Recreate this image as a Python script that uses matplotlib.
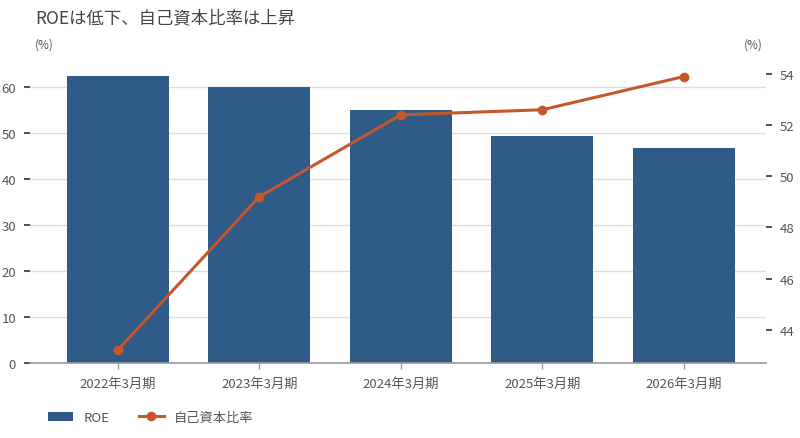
import matplotlib.pyplot as plt
from matplotlib.lines import Line2D
from matplotlib.patches import Patch

plt.rcParams["font.family"] = ["Noto Sans CJK JP", "DejaVu Sans"]

# data
periods = ["2022年3月期", "2023年3月期", "2024年3月期", "2025年3月期", "2026年3月期"]
roe = [62.4, 60.0, 55.0, 49.3, 46.7]
equity_ratio = [43.2, 49.2, 52.4, 52.6, 53.9]
left_ticks = [0, 10, 20, 30, 40, 50, 60]
right_ticks = [44, 46, 48, 50, 52, 54]

bar_color = "#2e5b87"
line_color = "#c4572c"
text_color = "#555555"

fig = plt.figure(figsize=(8, 4.39), dpi=100)
ax = fig.add_axes([0.0375, 0.171, 0.92, 0.681])
ax2 = ax.twinx()

x = list(range(len(periods)))
ax.bar(x, roe, width=0.72, color=bar_color, zorder=2)
ax2.plot(x, equity_ratio, color=line_color, linewidth=2.2, marker="o",
         markersize=6, zorder=3)

ax.set_xlim(-0.62, 4.58)
ax.set_ylim(0, 65)
ax2.set_ylim(42.7, 54.39)
ax.set_yticks(left_ticks)
ax2.set_yticks(right_ticks)
ax.set_xticks(x)
ax.set_xticklabels(periods)

ax.grid(axis="y", color="#dddddd", linewidth=1, zorder=0)
ax.set_axisbelow(True)

for a in (ax, ax2):
    for s in ("top", "left", "right", "bottom"):
        a.spines[s].set_visible(False)
ax.spines["bottom"].set_visible(True)
ax.spines["bottom"].set_color("#999999")
ax.spines["bottom"].set_linewidth(1.2)

ax.tick_params(axis="y", length=4, width=1.2, color="#333333",
               labelsize=9.5, labelcolor=text_color, pad=6)
ax2.tick_params(axis="y", length=4, width=1.2, color="#333333",
                labelsize=9.5, labelcolor=text_color, pad=6)
ax.tick_params(axis="x", length=4, width=1, color="#999999",
               labelsize=9.5, labelcolor=text_color, pad=6)

fig.text(0.044, 0.958, "ROEは低下、自己資本比率は上昇", fontsize=12.5,
         color="#444444", va="center", ha="left")
fig.text(0.044, 0.897, "(%)", fontsize=8.5, color=text_color,
         va="center", ha="left")
fig.text(0.93, 0.897, "(%)", fontsize=8.5, color=text_color,
         va="center", ha="left")

handles = [
    Patch(facecolor=bar_color, label="ROE"),
    Line2D([0], [0], color=line_color, linewidth=2.2, marker="o",
           markersize=6, label="自己資本比率"),
]
fig.legend(handles=handles, loc="center left", bbox_to_anchor=(0.045, 0.047),
           ncol=2, frameon=False, fontsize=9.5, labelcolor=text_color,
           handlelength=1.9, columnspacing=2.2, handletextpad=0.8)

fig.savefig("out.png", dpi=100)
